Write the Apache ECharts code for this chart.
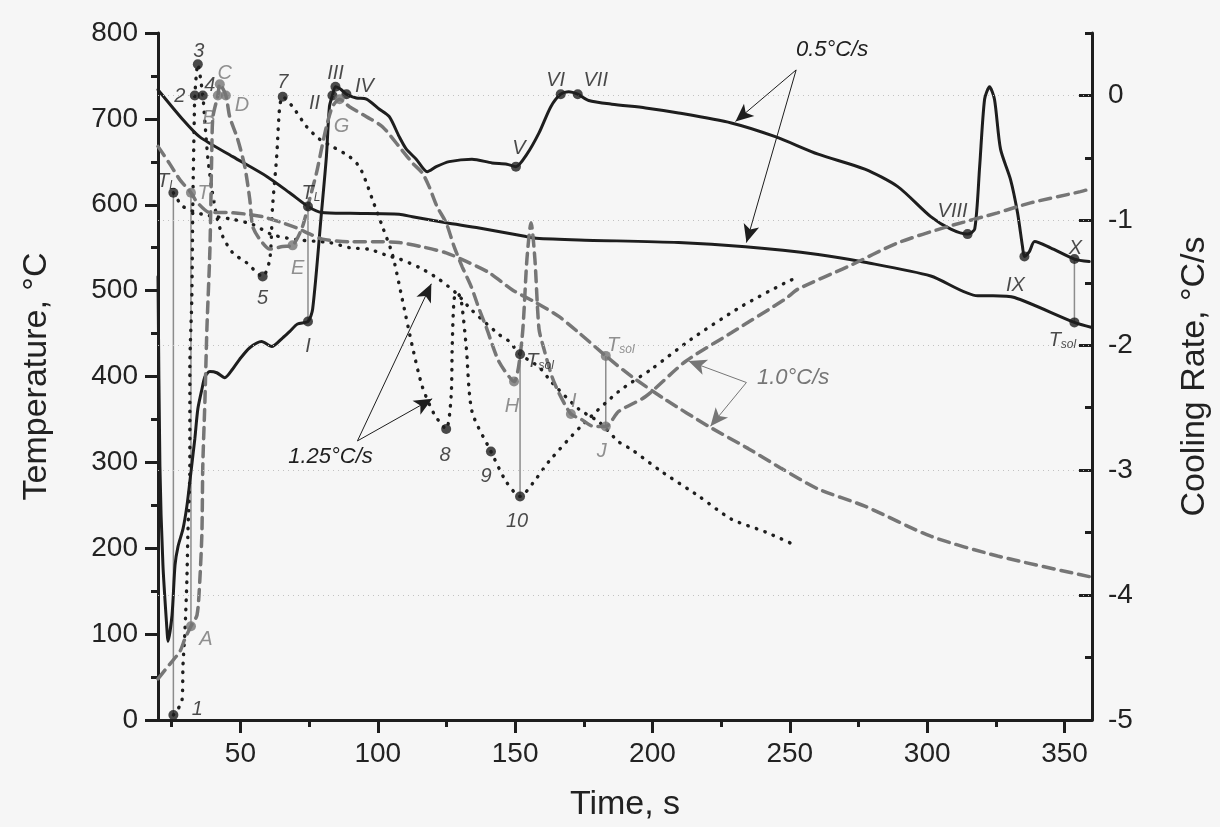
<!DOCTYPE html>
<html>
<head>
<meta charset="utf-8">
<script src="https://cdn.jsdelivr.net/npm/echarts@6/dist/echarts.min.js"></script>
<style>
html, body { margin: 0; padding: 0; background: #f6f6f6; }
#chart { width: 1220px; height: 827px; }
</style>
</head>
<body>
<div id="chart"></div>
<script>
// axis ticks
var timeTicks = [50, 100, 150, 200, 250, 300, 350];
var timeMinor = [25, 75, 125, 175, 225, 275, 325];
var rateTicks = [-5, -4, -3, -2, -1, 0];
var rateMinor = [-4.5, -3.5, -2.5, -1.5, -0.5, 0.5];

// 0.5 C/s : temperature and cooling rate (solid)
var tempHalf = [[20,734],[29.1,699],[35.2,679],[47.2,656],[59.6,633],[67.9,614],[74.6,598],[79.5,591],[90,590],[107.8,589],[112.6,586],[124.9,579],[136.9,573],[154,563],[157.6,561],[173.2,559],[209.5,556],[233.8,551],[260.3,542],[277.3,533],[301.3,517],[318.4,494],[324,494],[331.8,492],[353.6,463],[360,457]];
var rateHalf = [[20,-1.45],[20.7,-2.97],[21.8,-3.76],[23.3,-4.29],[23.6,-4.37],[25.1,-4.16],[26.2,-3.76],[27.3,-3.61],[29.1,-3.47],[30.5,-3.29],[31.6,-3.09],[33.4,-2.75],[34.5,-2.51],[36,-2.35],[37.1,-2.25],[38.9,-2.21],[41.4,-2.22],[44.3,-2.26],[47.2,-2.19],[49.8,-2.11],[53.4,-2.02],[57.7,-1.97],[61.4,-2.01],[65.4,-1.94],[67.9,-1.89],[70.8,-1.83],[74.6,-1.81],[76.3,-1.71],[79.5,-0.94],[81.3,-0.49],[82.4,-0.09],[83.5,0],[84.6,0.07],[86.5,0.05],[88.6,0.01],[92.2,-0.02],[95.9,-0.03],[100.6,-0.11],[104.2,-0.17],[107.8,-0.33],[110.4,-0.43],[114,-0.51],[118,-0.61],[121.3,-0.57],[126,-0.53],[134.3,-0.51],[141.6,-0.54],[147,-0.55],[150.3,-0.57],[154.3,-0.47],[158.7,-0.3],[163,-0.09],[166.6,0.01],[169.5,0.03],[172.8,0.01],[176.8,-0.04],[185.2,-0.07],[197.5,-0.1],[209.5,-0.14],[228.7,-0.22],[244.7,-0.33],[260.3,-0.47],[277.3,-0.59],[289.3,-0.73],[301.3,-0.97],[308.6,-1.07],[314.7,-1.11],[317.3,-1.07],[319.1,-0.57],[320.9,-0.03],[322.7,0.07],[324.5,-0.03],[326.7,-0.43],[330.3,-0.67],[332.9,-0.94],[334.7,-1.21],[335.4,-1.29],[337.2,-1.25],[339.1,-1.17],[344.9,-1.22],[353.6,-1.31],[359,-1.33]];

// 1.25 C/s : temperature and cooling rate (dotted)
var tempQuick = [[25.6,614],[29.1,598],[36,589],[47.2,583],[54.5,577],[61.7,565],[71.5,559],[82.4,556],[89.7,550],[97,548],[104.2,540],[107.8,537],[115.1,527],[122.4,513],[128.9,496],[134,478],[144.1,449],[147.8,441],[151.8,426],[158.7,411],[163.4,393],[173.2,362],[180.6,347],[187.7,324],[192.4,315],[203,290],[216.7,261],[228.7,234],[241.1,219],[252.3,203]];
var rateQuick = [[25.6,-4.96],[28.7,-4.85],[29.1,-4.56],[29.8,-4.29],[30.5,-3.89],[30.9,-3.49],[31.6,-2.97],[31.6,-2.17],[32.3,-1.63],[32.7,-0.83],[33.2,-0.19],[33.4,0],[34.5,0.25],[36.3,0],[37.1,-0.22],[38.1,-0.49],[39.6,-0.75],[41.4,-0.97],[43.6,-1.13],[47.2,-1.26],[52.3,-1.34],[58.1,-1.45],[60.7,-1.31],[61.7,-0.89],[63.2,-0.49],[64.3,-0.09],[65.4,-0.01],[69,-0.09],[74.1,-0.25],[78.8,-0.35],[83.5,-0.41],[89.7,-0.49],[93.3,-0.57],[95.9,-0.7],[98,-0.83],[101.7,-1.05],[105.3,-1.27],[108.9,-1.63],[112.6,-2.01],[116.2,-2.33],[120.5,-2.55],[124.9,-2.67],[126.7,-2.41],[127.1,-2.01],[127.8,-1.63],[128.9,-1.58],[130.3,-1.63],[132.2,-2.01],[134.3,-2.53],[141.2,-2.85],[146.7,-3.09],[151.8,-3.21],[157.6,-3.07],[162.3,-2.93],[173.9,-2.65],[187.7,-2.37],[199.7,-2.19],[214.2,-1.95],[232.3,-1.69],[248.3,-1.5],[252.3,-1.46]];

// 1.0 C/s : temperature and cooling rate (dashed)
var tempOne = [[20,668],[24.4,647],[28,629],[32,614],[34.2,603],[38.9,591],[45,591],[52.3,589],[58.1,586],[64.3,580],[70.5,573],[75.2,566],[79.9,560],[89.7,557],[101.7,557],[107.8,556],[116.2,551],[124.9,544],[132.2,534],[140.5,521],[148.9,501],[157.6,486],[165.9,470],[173.2,451],[183,424],[192.4,400],[204.8,373],[220.4,342],[234.9,316],[246.9,293],[260.3,269],[277.3,249],[301.3,214],[325.6,191],[359,167]];
var rateOne = [[20,-4.67],[24.4,-4.55],[28,-4.45],[29.8,-4.35],[32,-4.25],[34.2,-4.16],[35.2,-3.89],[36,-3.49],[36.3,-2.97],[37.1,-2.43],[37.8,-1.87],[38.9,-1.23],[39.6,-0.43],[40,-0.17],[41.8,0],[42.5,0.09],[44.7,0],[46.1,-0.17],[49,-0.35],[51.6,-0.57],[53.4,-0.83],[54.5,-1.05],[57,-1.15],[60.7,-1.23],[65.4,-1.21],[69,-1.2],[72.6,-1.05],[75.2,-0.83],[77.7,-0.62],[79.5,-0.43],[81.3,-0.25],[83.5,-0.09],[86.1,-0.03],[89.7,-0.09],[95.9,-0.17],[101.7,-0.25],[107.8,-0.41],[112.6,-0.54],[116.2,-0.62],[118.7,-0.73],[121.6,-0.89],[124.9,-1.02],[127.8,-1.21],[130.7,-1.37],[134,-1.53],[136.9,-1.71],[139.4,-1.85],[144.1,-2.13],[149.6,-2.29],[152.5,-1.95],[154.3,-1.31],[155.8,-1.02],[157.2,-1.31],[158.7,-1.87],[160.5,-2.03],[163.4,-2.25],[165.9,-2.38],[170.3,-2.55],[173.9,-2.59],[178.6,-2.65],[183,-2.65],[187.7,-2.53],[197.5,-2.41],[212,-2.13],[228.7,-1.9],[248.3,-1.63],[253,-1.55],[271.2,-1.37],[289.3,-1.18],[307.5,-1.05],[325.6,-0.94],[337.6,-0.86],[355.8,-0.77],[359,-0.75]];

// marked points
var halfTempPts = [[74.6,598],[353.6,463]];
var halfTempNames = ['TL','Tsol'];
var halfRatePts = [[74.6,-1.81],[83.5,0],[84.6,0.07],[88.6,0.01],[150.3,-0.57],[166.6,0.01],[172.8,0.01],[314.7,-1.11],[335.4,-1.29],[353.6,-1.31]];
var halfRateNames = ['I','II','III','IV','V','VI','VII','VIII','IX','X'];
var quickTempPts = [[25.6,614],[151.8,426]];
var quickTempNames = ['TL','Tsol'];
var quickRatePts = [[25.6,-4.96],[33.4,0],[34.5,0.25],[36.3,0],[58.1,-1.45],[65.4,-0.01],[124.9,-2.67],[141.2,-2.85],[151.8,-3.21]];
var quickRateNames = ['1','2','3','4','5','7','8','9','10'];
var oneTempPts = [[32,614],[183,424]];
var oneTempNames = ['TL','Tsol'];
var oneRatePts = [[32,-4.25],[41.8,0],[42.5,0.09],[44.7,0],[69,-1.2],[86.1,-0.03],[149.6,-2.29],[170.3,-2.55],[183,-2.65]];
var oneRateNames = ['A','B','C','D','E','G','H','I','J'];

// label offsets (px, from dot centre)
var halfTempOff = [[3,-17],[-12,14]];
var halfRateOff = [[0,21],[-18,4],[0,-17],[18,-12],[3,-22],[-5,-18],[18,-18],[-15,-27],[-9,25],[1,-15]];
var quickTempOff = [[-7,-15],[20,3]];
var quickRateOff = [[24,-10],[-15,-3],[1,-17],[7,-14],[0,18],[0,-18],[-1,22],[-5,21],[-3,21]];
var oneTempOff = [[16,-3],[15,-14]];
var oneRateOff = [[15,9],[-9,19],[5,-15],[16,6],[5,19],[2,23],[-2,21],[3,-17],[-4,21]];

var BLACK = '#1e1e1e';
var GRAY = '#767676';
var FONT = 'Liberation Sans, Arial, sans-serif';

function labelText(n) {
    if (n === 'TL') return '{t|T}{s|L}';
    if (n === 'Tsol') return '{t|T}{s|sol}';
    return '{t|' + n + '}';
}

function dots(pts, names, offs, yIdx, color) {
    return {
        type: 'scatter',
        yAxisIndex: yIdx,
        symbolSize: 10,
        z: 5,
        itemStyle: { color: color },
        data: pts.map(function (p, i) {
            return {
                value: p,
                label: {
                    show: true,
                    position: 'inside',
                    offset: offs[i],
                    formatter: labelText(names[i]),
                    rich: {
                        t: { fontSize: 20, fontStyle: 'italic', fontFamily: FONT, color: color, lineHeight: 28, verticalAlign: 'bottom' },
                        s: { fontSize: 12, fontStyle: 'italic', fontFamily: FONT, color: color, lineHeight: 14, verticalAlign: 'bottom' }
                    }
                }
            };
        })
    };
}

function curve(data, yIdx, color, type, width) {
    return {
        type: 'line',
        yAxisIndex: yIdx,
        data: data,
        showSymbol: false,
        smooth: 0.25,
        silent: true,
        lineStyle: { color: color, width: width, type: type, cap: 'round' }
    };
}

var DOTTED = [0.5, 8.5];
var DASHED = [11, 7];

var gridSeries = curve(rateHalf, 1, BLACK, 'solid', 3);
gridSeries.markLine = {
    silent: true,
    symbol: 'none',
    label: { show: false },
    lineStyle: { color: '#c2c2c2', width: 1, type: [1, 4] },
    data: rateTicks.filter(function (v) { return v > -5; }).map(function (v) { return { yAxis: v }; })
};

var notes = {
    type: 'line',
    yAxisIndex: 0,
    data: [],
    silent: true,
    markLine: {
        symbol: ['none', 'arrow'],
        symbolSize: [12, 18],
        label: { show: false },
        lineStyle: { color: BLACK, width: 1, type: 'solid' },
        data: [
            [{ coord: [252.3, 757] }, { coord: [230.2, 697] }],
            [{ coord: [252.3, 757] }, { coord: [234.2, 556] }],
            [{ coord: [92.6, 325] }, { coord: [119.5, 508] }],
            [{ coord: [92.6, 325] }, { coord: [119.8, 374] }],
            [{ coord: [234.2, 393], lineStyle: { color: GRAY } }, { coord: [213.1, 418], itemStyle: { color: GRAY } }],
            [{ coord: [234.2, 393], lineStyle: { color: GRAY } }, { coord: [221.1, 342], itemStyle: { color: GRAY } }]
        ]
    },
    markPoint: {
        symbol: 'circle',
        symbolSize: 1,
        itemStyle: { color: 'rgba(0,0,0,0)' },
        label: { show: true, position: 'inside', fontFamily: FONT, fontStyle: 'italic', fontSize: 22, color: BLACK },
        data: [
            { coord: [265.4, 780], label: { formatter: '0.5°C/s' } },
            { coord: [82.8, 306], label: { formatter: '1.25°C/s' } },
            { coord: [251.2, 398], label: { formatter: '1.0°C/s', color: GRAY } }
        ]
    }
};

var axisLine = { onZero: false, lineStyle: { color: BLACK, width: 3 } };
var tickLabel = { fontFamily: FONT, fontSize: 28, color: '#222' };

var option = {
    backgroundColor: '#f6f6f6',
    animation: false,
    grid: { left: 158, right: 127, top: 33, bottom: 106 },
    xAxis: [{
        type: 'value', min: 20, max: 360, position: 'bottom',
        axisLine: axisLine,
        axisTick: { length: 13, lineStyle: { color: BLACK, width: 3 }, customValues: timeTicks },
        axisLabel: Object.assign({ margin: 20, customValues: timeTicks }, tickLabel),
        splitLine: { show: false },
        name: 'Time, s', nameLocation: 'middle', nameGap: 68,
        nameTextStyle: { fontFamily: FONT, fontSize: 34, color: '#222' }
    }, {
        type: 'value', min: 20, max: 360, position: 'bottom',
        axisLine: { show: false, onZero: false },
        axisTick: { length: 7, lineStyle: { color: BLACK, width: 3 }, customValues: timeMinor },
        axisLabel: { show: false },
        splitLine: { show: false }
    }],
    yAxis: [{
        type: 'value', min: 0, max: 800, interval: 100, position: 'left',
        axisLine: axisLine,
        axisTick: { length: 13, lineStyle: { color: BLACK, width: 3 } },
        minorTick: { show: true, splitNumber: 2, length: 7, lineStyle: { color: BLACK, width: 3 } },
        axisLabel: Object.assign({ margin: 20 }, tickLabel),
        splitLine: { show: false },
        name: 'Temperature, °C', nameLocation: 'middle', nameGap: 104, nameRotate: 90,
        nameTextStyle: { fontFamily: FONT, fontSize: 34, color: '#222' }
    }, {
        type: 'value', min: -5, max: 0.5, interval: 1, position: 'right',
        axisLine: axisLine,
        axisTick: { inside: true, length: 13, lineStyle: { color: BLACK, width: 3 }, customValues: rateTicks },
        axisLabel: Object.assign({ margin: 16, customValues: rateTicks }, tickLabel),
        splitLine: { show: false },
        name: 'Cooling Rate, °C/s', nameLocation: 'middle', nameGap: 86, nameRotate: 90,
        nameTextStyle: { fontFamily: FONT, fontSize: 34, color: '#222' }
    }, {
        type: 'value', min: -5, max: 0.5, position: 'right',
        axisLine: { show: false, onZero: false },
        axisTick: { inside: true, length: 7, lineStyle: { color: BLACK, width: 3 }, customValues: rateMinor },
        axisLabel: { show: false },
        splitLine: { show: false }
    }],
    series: [
        gridSeries,
        curve(tempHalf, 0, BLACK, 'solid', 3),
        curve(tempQuick, 0, BLACK, DOTTED, 3.4),
        curve(rateQuick, 1, BLACK, DOTTED, 3.4),
        curve(tempOne, 0, GRAY, DASHED, 3.5),
        curve(rateOne, 1, GRAY, DASHED, 3.5),
        dots(halfTempPts, halfTempNames, halfTempOff, 0, BLACK),
        dots(halfRatePts, halfRateNames, halfRateOff, 1, BLACK),
        dots(quickTempPts, quickTempNames, quickTempOff, 0, BLACK),
        dots(quickRatePts, quickRateNames, quickRateOff, 1, BLACK),
        dots(oneTempPts, oneTempNames, oneTempOff, 0, GRAY),
        dots(oneRatePts, oneRateNames, oneRateOff, 1, GRAY),
        notes
    ]
};

var chart = echarts.init(document.getElementById('chart'));
chart.setOption(option);

// thin vertical lines joining a temperature mark with its cooling-rate mark
var tempSeriesIdx = { half: 6, quick: 8, one: 10 };
var pairs = [
    ['quick', quickTempPts[0], quickRatePts[0]],
    ['one', oneTempPts[0], oneRatePts[0]],
    ['half', halfTempPts[0], halfRatePts[0]],
    ['quick', quickTempPts[1], quickRatePts[8]],
    ['one', oneTempPts[1], oneRatePts[8]],
    ['half', halfTempPts[1], halfRatePts[9]]
];
var links = pairs.map(function (p) {
    var a = chart.convertToPixel({ seriesIndex: tempSeriesIdx[p[0]] }, p[1]);
    var b = chart.convertToPixel({ seriesIndex: tempSeriesIdx[p[0]] + 1 }, [p[1][0], p[2][1]]);
    return {
        type: 'line', silent: true, z: 1,
        shape: { x1: a[0], y1: a[1], x2: b[0], y2: b[1] },
        style: { stroke: '#8c8c8c', lineWidth: 1.5 }
    };
});
chart.setOption({ graphic: links });

window.onresize = function () { chart.resize(); };
</script>
</body>
</html>
